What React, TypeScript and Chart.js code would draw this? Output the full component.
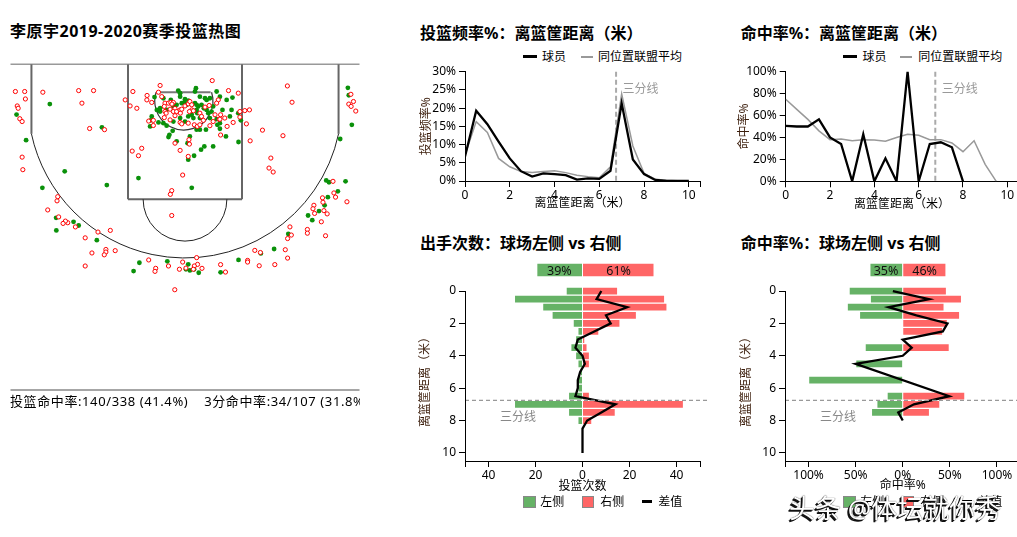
import React, { useEffect, useRef } from 'react';
import { Chart, registerables } from 'chart.js';
Chart.register(...registerables);

const FONT = '"Noto Sans", "Noto Sans CJK SC", sans-serif';
Chart.defaults.font.family = FONT;
Chart.defaults.font.size = 12;
Chart.defaults.color = '#000';

const GREEN = '#66b266';
const RED = '#ff6666';
const BAR_EDGE = 'rgba(255,255,255,0.55)';
const Y_TITLE = '#3c1e0c';

// ---------------- data ----------------
const madeShots: [number, number][] = [
  [-5.81,1.71],[-3.57,2.71],[-6.83,3.26],[-7.24,2.16],[-5.17,4.60],[-6.13,5.31],[-3.36,5.19],[-5.54,6.60],[-5.53,7.14],[-4.79,6.77],
  [-4.57,6.93],[-3.79,7.56],[-2.21,8.89],[-1.96,8.53],[-0.76,8.47],[0.04,8.81],[0.14,8.60],[0.21,8.86],[0.39,8.81],[0.59,8.96],
  [1.53,8.94],[2.30,8.41],[3.26,8.13],[3.83,7.94],[4.44,7.29],[5.29,6.50],[5.47,6.70],[5.76,6.31],[6.00,6.06],[6.14,5.71],
  [6.19,5.07],[6.07,4.99],[6.57,5.46],[6.90,5.03],[6.67,3.21],[7.17,2.60],[7.00,1.01],[7.04,1.33],[-2.00,4.89],[0.29,5.31],
  [0.39,3.93],[0.14,4.10],[0.69,3.67],[0.83,3.53],[1.21,3.53],[2.30,3.34],[1.76,3.10],[1.50,2.77],[1.39,2.60],[0.90,2.81],
  [0.64,2.81],[0.50,2.81],[0.21,3.10],[0.11,3.39],[-0.36,3.31],[-0.67,3.03],[-0.71,3.13],[-0.53,2.86],[-0.79,2.64],[-0.93,2.53],
  [-1.14,2.50],[-1.50,2.67],[-1.47,2.41],[-1.43,2.24],[-1.21,1.96],[-1.07,1.89],[-1.07,2.03],[-0.79,1.96],[-0.93,1.46],[-1.31,1.41],
  [-0.29,1.13],[0.47,1.03],[0.43,1.17],[0.64,1.39],[0.86,1.46],[0.93,1.53],[1.07,1.46],[-0.21,1.39],[0.00,1.50],[0.14,1.56],
  [-0.03,1.64],[0.07,1.74],[0.43,1.67],[0.50,1.74],[0.57,1.81],[0.71,1.74],[0.81,1.89],[0.93,1.96],[1.00,2.10],[1.14,2.03],
  [1.21,1.81],[1.36,1.17],[1.50,1.39],[1.61,1.96],[1.79,1.53],[2.00,1.96],[2.04,1.43],[2.29,2.10],[2.40,2.41],[0.64,2.31],
  [0.36,2.31],[0.14,2.24],[0.00,2.46],[-0.21,2.31],[-0.50,2.46],[1.36,2.36],[1.50,2.53],[1.93,2.24],[1.07,2.31],[0.53,2.10],
  [0.29,2.17],[0.50,1.96],[-0.14,1.67],[-0.36,1.74],[-0.50,1.81],[-0.21,1.24],[-0.61,1.53]
];

const missedShots: [number, number][] = [
  [-7.29,1.17],[-6.89,1.17],[-6.86,1.49],[-7.21,1.79],[-7.17,1.89],[-7.10,2.34],[-7.00,2.46],[-7.00,3.99],[-6.97,4.53],[-6.11,1.20],
  [-4.57,1.13],[-3.93,1.13],[-4.43,1.67],[-4.10,2.76],[-3.46,2.81],[-2.24,1.17],[-2.57,1.53],[-2.36,1.79],[-2.07,1.89],[-1.63,1.34],
  [-1.64,1.53],[-1.07,0.91],[-1.14,1.20],[-1.43,1.64],[1.17,0.70],[1.87,1.13],[2.29,1.24],[4.40,0.93],[4.60,1.63],[3.33,2.83],
  [4.21,3.07],[2.80,3.29],[2.64,2.56],[2.77,1.96],[2.57,1.99],[2.36,2.03],[2.36,2.27],[2.07,2.50],[1.81,2.67],[1.53,3.04],
  [1.21,2.46],[1.47,2.36],[-2.27,3.73],[-1.86,3.61],[-2.00,3.93],[-1.56,2.44],[-1.36,2.41],[-1.36,2.63],[-0.43,3.39],[-0.21,3.70],
  [0.19,3.43],[0.17,3.24],[0.14,3.96],[-0.10,4.76],[-0.57,5.43],[-0.63,5.59],[-0.57,6.50],[3.69,4.03],[3.61,4.46],[3.79,4.63],
  [7.13,1.29],[7.04,1.71],[7.24,1.60],[7.14,1.81],[7.34,2.01],[6.36,5.03],[6.40,5.53],[5.91,5.74],[6.47,5.71],[6.96,5.91],
  [5.54,6.06],[5.50,6.21],[5.57,6.41],[5.93,5.93],[5.97,6.29],[6.11,6.43],[5.86,6.77],[5.26,7.10],[5.26,7.26],[6.04,7.37],
  [4.51,6.99],[4.57,7.34],[4.41,7.49],[4.31,7.97],[4.41,8.33],[3.86,8.61],[3.24,8.09],[3.00,8.00],[2.69,8.43],[2.69,8.50],
  [3.19,8.66],[1.74,8.93],[1.53,8.61],[0.73,8.77],[0.54,8.60],[0.50,8.31],[0.40,8.67],[0.36,8.81],[-0.10,8.50],[0.04,8.76],
  [-0.24,8.81],[-0.71,8.67],[-1.26,8.77],[-1.29,8.90],[-1.56,8.41],[-0.44,9.69],[-3.00,8.01],[-3.40,7.96],[-3.40,8.07],[-3.47,8.19],
  [-4.00,8.11],[-4.29,8.67],[-4.29,7.46],[-3.74,7.21],[-3.21,7.14],[-4.71,6.99],[-5.04,6.81],[-5.14,6.74],[-5.24,6.84],[-5.43,6.56],
  [-5.90,6.26],[-5.50,5.87],[-5.47,5.69],
  [-0.86,1.67],[-0.71,1.67],[-0.61,1.64],[-0.50,1.64],[-0.56,1.71],[-0.89,1.81],[-0.86,2.03],[-0.81,2.10],[-0.64,1.93],[-0.43,1.90],
  [-0.50,2.03],[-0.36,2.03],[-0.21,1.96],[-0.20,2.10],[-0.14,1.93],[0.00,1.79],[0.14,1.70],[0.21,1.60],[0.29,1.74],[0.29,1.96],
  [0.19,2.03],[0.36,2.00],[0.64,2.10],[0.71,2.24],[0.79,2.41],[0.86,1.84],[1.04,1.77],[1.43,1.53],[1.36,1.67],[1.29,2.17],
  [1.53,2.17],[1.71,2.31],[1.50,2.36],[-0.21,2.50],[-0.14,2.56],[0.14,2.53],[0.40,2.60],[0.53,2.67],[0.64,2.60],[1.07,2.64],
  [-0.89,2.29],[-0.64,2.39],[-0.43,2.21],[-1.00,1.39]
];

const distances = [0, 0.5, 1, 1.5, 2, 2.5, 3, 3.5, 4, 4.5, 5, 5.5, 6, 6.5, 7, 7.5, 8, 8.5, 9, 9.5, 10];
const playerFreq = [6.7, 19.3, 15.6, 10.8, 6.2, 2.7, 1.2, 2.1, 1.9, 1.6, 0.4, 0.7, 0.6, 2.8, 21.3, 5.9, 1.9, 0.3, 0, 0, 0];
const leagueFreq = [7.1, 16.3, 13.3, 6.2, 3.9, 2.6, 2.3, 2.6, 2.8, 2.3, 1.6, 1.2, 0.9, 3.9, 23.9, 9.6, 2.1, 0.5, 0.2, 0.1, 0];
const playerFg = [50.5, 50, 50, 56.5, 40, 34, 0, 43, 0, 21, 0, 100, 0, 34, 35.6, 31, 0];
const leagueFg = [74.8, 65.6, 56.5, 46, 38, 38.6, 37, 38, 37.7, 36.5, 40, 43, 42, 38, 38, 35, 27, 37, 15.5, 0];
const leftCounts = [7, 29, 17, 13, 4, 2, 3, 5, 3, 2, 1, 2, 2, 6, 29, 6, 2, 0, 0, 0, 0];
const rightCounts = [15, 35, 36, 23, 16, 7, 1, 2, 3, 3, 0, 0, 0, 3, 43, 14, 4, 0, 0, 0, 0];
const leftFgPct = [57, 34.5, 59, 46, 0, 0, 0, 40, 0, 50, 0, 100, 0, 16.7, 27.6, 33.3, 0];
const rightFgPct = [46.5, 62.5, 44, 60.5, 47.5, 42.5, 0, 49.5, 0, 0, 0, 0, 0, 66, 39.5, 28.5, 0];
const leftFgTotal = 35;
const rightFgTotal = 46;
const threePointDist = 6.75;
const distTicks = [0, 2, 4, 6, 8, 10];
const countTicks = [-50, -40, -20, 0, 20, 40, 50];
const pctTicks = [-125, -100, -50, 0, 50, 100, 125];

// ---------------- helpers ----------------
const tickFont = { family: FONT, size: 12 };

function makeAxis(o: any) {
  return {
    type: 'linear',
    min: o.min,
    max: o.max,
    reverse: !!o.reverse,
    offset: false,
    afterBuildTicks: (s: any) => { s.ticks = o.values.map((v: number) => ({ value: v })); },
    afterFit: o.fit,
    grid: { display: true, offset: false, drawOnChartArea: false, drawTicks: true, tickLength: 6, color: '#000', tickColor: '#000', lineWidth: 1 },
    border: { display: o.border !== false, color: '#000', width: 1 },
    ticks: { color: '#000', font: tickFont, autoSkip: false, maxRotation: 0, minRotation: 0, padding: o.padding ?? 3, callback: (v: number) => o.label(v) },
    title: o.title
      ? { display: true, text: o.title, color: o.titleColor || '#000', font: { family: FONT, size: 12 }, padding: o.titlePadding }
      : { display: false },
  };
}

const courtPlugin = {
  id: 'court',
  beforeDatasetsDraw(chart: any) {
    const { ctx, scales } = chart;
    const X = (v: number) => scales.x.getPixelForValue(v);
    const Y = (v: number) => scales.y.getPixelForValue(v);
    const sx = Math.abs(X(1) - X(0));
    const sy = Math.abs(Y(1) - Y(0));
    const seg = (x1: number, y1: number, x2: number, y2: number, c: string, w: number) => {
      ctx.strokeStyle = c; ctx.lineWidth = w;
      ctx.beginPath(); ctx.moveTo(X(x1), Y(y1)); ctx.lineTo(X(x2), Y(y2)); ctx.stroke();
    };
    const arc = (cx: number, cy: number, r: number, a0: number, a1: number, c: string, w: number) => {
      ctx.strokeStyle = c; ctx.lineWidth = w;
      ctx.beginPath(); ctx.ellipse(X(cx), Y(cy), r * sx, r * sy, 0, a0, a1, false); ctx.stroke();
    };
    ctx.save();
    seg(-7.5, 0, 7.5, 0, '#999', 1.5);
    seg(-7.5, 14, 7.5, 14, '#888', 1.5);
    seg(-6.6, 0, -6.6, 2.99, '#666', 2);
    seg(6.6, 0, 6.6, 2.99, '#666', 2);
    const a3 = Math.atan2(1.415 * sy, 6.6 * sx);
    arc(0, 1.575, 6.75, a3, Math.PI - a3, '#222', 1);
    seg(-2.45, 0, -2.45, 5.8, '#666', 2);
    seg(2.45, 0, 2.45, 5.8, '#666', 2);
    seg(-2.45, 5.8, 2.45, 5.8, '#666', 2);
    arc(0, 5.8, 1.8, 0, Math.PI, '#222', 1);
    seg(-1.2, 1.2, 1.1, 1.2, '#777', 2);
    const ar = Math.asin(-0.375 / 1.25);
    arc(-0.05, 1.575, 1.25, ar, Math.PI - ar, '#333', 1.2);
    ctx.restore();
  },
};

const vThreePlugin = {
  id: 'vThree',
  beforeDatasetsDraw(chart: any) {
    const { ctx, chartArea, scales } = chart;
    const x = scales.x.getPixelForValue(threePointDist);
    ctx.save();
    ctx.strokeStyle = '#aaa'; ctx.lineWidth = 2; ctx.setLineDash([5, 3]);
    ctx.beginPath(); ctx.moveTo(x, chartArea.top); ctx.lineTo(x, chartArea.bottom); ctx.stroke();
    ctx.setLineDash([]);
    ctx.fillStyle = '#999'; ctx.font = `12px ${FONT}`; ctx.textBaseline = 'middle'; ctx.textAlign = 'left';
    ctx.fillText('三分线', x + 6.5, chartArea.top + 17.6);
    ctx.restore();
  },
};

function sidePlugin(yTitleX: number, summary: string[]) {
  return {
    id: 'sideDeco',
    afterDatasetsDraw(chart: any) {
      const { ctx, chartArea, scales } = chart;
      const y3 = scales.y.getPixelForValue(threePointDist);
      ctx.save();
      ctx.strokeStyle = '#999'; ctx.lineWidth = 1.3; ctx.setLineDash([4, 3]);
      ctx.beginPath(); ctx.moveTo(chartArea.left, y3); ctx.lineTo(chart.width, y3); ctx.stroke();
      ctx.setLineDash([]);
      ctx.fillStyle = '#888'; ctx.font = `12px ${FONT}`; ctx.textBaseline = 'middle'; ctx.textAlign = 'left';
      ctx.fillText('三分线', chartArea.left + 35, y3 + 17.6);
      ctx.fillStyle = '#111'; ctx.textAlign = 'center'; ctx.font = `12.5px ${FONT}`;
      [3, 4].forEach((di, k) => {
        const el = chart.getDatasetMeta(di).data[0];
        if (el) ctx.fillText(summary[k], (el.x + el.base) / 2, el.y + 1);
      });
      ctx.restore();
    },
    afterDraw(chart: any) {
      const { ctx, chartArea, scales } = chart;
      const y0 = scales.y.getPixelForValue(0);
      const y1 = scales.y.getPixelForValue(10.5);
      const x = Math.floor(chartArea.left) + 0.5;
      ctx.save();
      ctx.strokeStyle = '#000'; ctx.lineWidth = 1;
      ctx.beginPath(); ctx.moveTo(x, y0); ctx.lineTo(x, y1 + 0.5); ctx.stroke();
      ctx.translate(yTitleX, (y0 + y1) / 2 + 3);
      ctx.rotate(-Math.PI / 2);
      ctx.fillStyle = Y_TITLE; ctx.font = `12px ${FONT}`; ctx.textAlign = 'center'; ctx.textBaseline = 'middle';
      ctx.fillText('离篮筐距离（米）', 0, 0);
      ctx.restore();
    },
  };
}

const baseOpts = {
  responsive: false,
  animation: false,
  devicePixelRatio: 1,
  events: [],
};

// ---------------- chart configs ----------------
function courtConfig() {
  return {
    type: 'scatter',
    data: {
      datasets: [
        {
          label: '未命中',
          data: missedShots.map(([x, y]) => ({ x, y })),
          pointRadius: 2.1, pointBorderWidth: 1, pointBorderColor: '#ff0000', pointBackgroundColor: '#ffffff',
        },
        {
          label: '命中',
          data: madeShots.map(([x, y]) => ({ x, y })),
          pointRadius: 2.4, pointBorderWidth: 0, pointBackgroundColor: 'rgb(10,145,10)',
        },
      ],
    },
    options: {
      ...baseOpts,
      layout: { padding: { left: 10.5, right: 10.5, top: 14.3, bottom: 10 } },
      plugins: { legend: { display: false }, tooltip: { enabled: false } },
      scales: {
        x: { type: 'linear', min: -7.5, max: 7.5, display: false },
        y: { type: 'linear', min: 0, max: 14, reverse: true, display: false },
      },
    },
    plugins: [courtPlugin],
  };
}

function freqConfig() {
  return {
    type: 'line',
    data: {
      datasets: [
        { label: '球员', data: distances.map((d, i) => ({ x: d, y: playerFreq[i] })), borderColor: '#000', borderWidth: 2.3, pointRadius: 0 },
        { label: '同位置联盟平均', data: distances.map((d, i) => ({ x: d, y: leagueFreq[i] })), borderColor: '#999', borderWidth: 1.5, pointRadius: 0 },
      ],
    },
    options: {
      ...baseOpts,
      layout: { padding: { top: 11.7, right: 10, left: 0, bottom: 0 } },
      plugins: { legend: { display: false }, tooltip: { enabled: false } },
      scales: {
        x: makeAxis({ min: 0, max: 10.5, values: [...distTicks, 10.5], fit: (s: any) => { s.height = 39; }, padding: 1,
          label: (v: number) => (v === 10.5 ? '' : String(v)), title: '离篮筐距离（米）', titlePadding: { top: 0, bottom: 8.8 } }),
        y: makeAxis({ min: 0, max: 30, values: [0, 5, 10, 15, 20, 25, 30], fit: (s: any) => { s.width = 55; },
          label: (v: number) => `${v}%`, title: '投篮频率%', titleColor: Y_TITLE, titlePadding: { top: 9.5, bottom: 0 } }),
      },
    },
    plugins: [vThreePlugin],
  };
}

function fgConfig() {
  return {
    type: 'line',
    data: {
      datasets: [
        { label: '球员', data: playerFg.map((v, i) => ({ x: distances[i], y: v })), borderColor: '#000', borderWidth: 2.3, pointRadius: 0 },
        { label: '同位置联盟平均', data: leagueFg.map((v, i) => ({ x: distances[i], y: v })), borderColor: '#999', borderWidth: 1.5, pointRadius: 0 },
      ],
    },
    options: {
      ...baseOpts,
      layout: { padding: { top: 11.7, right: 11.6, left: 0, bottom: 0 } },
      plugins: { legend: { display: false }, tooltip: { enabled: false } },
      scales: {
        x: makeAxis({ min: 0, max: 10.5, values: [...distTicks, 10.5], fit: (s: any) => { s.height = 38.7; }, padding: 1,
          label: (v: number) => (v === 10.5 ? '' : String(v)), title: '离篮筐距离（米）', titlePadding: { top: 0, bottom: 8.5 } }),
        y: makeAxis({ min: 0, max: 100, values: [0, 20, 40, 60, 80, 100], fit: (s: any) => { s.width = 65.7; },
          label: (v: number) => `${v}%`, title: '命中率%', titleColor: Y_TITLE, titlePadding: { top: 17.8, bottom: 0 } }),
      },
    },
    plugins: [vThreePlugin],
  };
}

const barStyle = { borderColor: BAR_EDGE, borderWidth: 1, grouped: false, categoryPercentage: 1, barPercentage: 1 };

function countsConfig() {
  const sumL = leftCounts.reduce((a, b) => a + b, 0);
  const sumR = rightCounts.reduce((a, b) => a + b, 0);
  const leftShare = Math.round((100 * sumL) / (sumL + sumR));
  const rightShare = 100 - leftShare;
  const shareScale = 50 / 100;
  return {
    type: 'bar',
    data: {
      datasets: [
        { type: 'line', indexAxis: 'y', label: '差值', data: distances.map((d, i) => ({ x: rightCounts[i] - leftCounts[i], y: d })),
          borderColor: '#000', borderWidth: 2.3, pointRadius: 0 },
        { label: '左侧', data: distances.map((d, i) => ({ x: -leftCounts[i], y: d })).filter((p) => p.x !== 0), backgroundColor: GREEN, ...barStyle },
        { label: '右侧', data: distances.map((d, i) => ({ x: rightCounts[i], y: d })).filter((p) => p.x !== 0), backgroundColor: RED, ...barStyle },
        { label: '左侧占比', data: [{ x: -leftShare * shareScale, y: -1.3 }], backgroundColor: GREEN, ...barStyle, barThickness: 14 },
        { label: '右侧占比', data: [{ x: rightShare * shareScale, y: -1.3 }], backgroundColor: RED, ...barStyle, barThickness: 14 },
      ],
    },
    options: {
      ...baseOpts,
      indexAxis: 'y',
      layout: { padding: { top: 10.4, right: 10, left: 0, bottom: 0 } },
      plugins: { legend: { display: false }, tooltip: { enabled: false } },
      scales: {
        x: makeAxis({ min: -50, max: 50, values: countTicks, fit: (s: any) => { s.height = 39; }, padding: 1,
          label: (v: number) => (Math.abs(v) === 50 ? '' : String(Math.abs(v))), title: '投篮次数', titlePadding: { top: 0, bottom: 6.1 } }),
        y: makeAxis({ min: -2.2, max: 10.5, reverse: true, values: distTicks, border: false, fit: (s: any) => { s.width = 55; },
          label: (v: number) => String(v) }),
      },
    },
    plugins: [sidePlugin(15.7, [`${leftShare}%`, `${rightShare}%`])],
  };
}

function sideFgConfig() {
  const diff = distances
    .map((d, i) => ({ d, i }))
    .filter(({ i }) => leftCounts[i] > 0 && rightCounts[i] > 0)
    .map(({ d, i }) => ({ x: rightFgPct[i] - leftFgPct[i], y: d }));
  return {
    type: 'bar',
    data: {
      datasets: [
        { type: 'line', indexAxis: 'y', label: '差值', data: diff, borderColor: '#000', borderWidth: 2.3, pointRadius: 0 },
        { label: '左侧', data: leftFgPct.map((v, i) => ({ x: -v, y: distances[i] })).filter((p) => p.x !== 0), backgroundColor: GREEN, ...barStyle },
        { label: '右侧', data: rightFgPct.map((v, i) => ({ x: v, y: distances[i] })).filter((p) => p.x !== 0), backgroundColor: RED, ...barStyle },
        { label: '左侧总', data: [{ x: -leftFgTotal, y: -1.3 }], backgroundColor: GREEN, ...barStyle, barThickness: 14 },
        { label: '右侧总', data: [{ x: rightFgTotal, y: -1.3 }], backgroundColor: RED, ...barStyle, barThickness: 14 },
      ],
    },
    options: {
      ...baseOpts,
      indexAxis: 'y',
      layout: { padding: { top: 10.4, right: 9.5, left: 0, bottom: 0 } },
      plugins: { legend: { display: false }, tooltip: { enabled: false } },
      scales: {
        x: makeAxis({ min: -125, max: 125, values: pctTicks, fit: (s: any) => { s.height = 39; }, padding: 1,
          label: (v: number) => (Math.abs(v) === 125 ? '' : `${Math.abs(v)}%`), title: '命中率%', titlePadding: { top: 0, bottom: 6.8 } }),
        y: makeAxis({ min: -2.2, max: 10.5, reverse: true, values: distTicks, border: false, fit: (s: any) => { s.width = 65; },
          label: (v: number) => String(v) }),
      },
    },
    plugins: [sidePlugin(26.7, [`${leftFgTotal}%`, `${rightFgTotal}%`])],
  };
}

// ---------------- components ----------------
function ChartBox({ left, top, width, height, make }: any) {
  const ref = useRef<HTMLCanvasElement>(null);
  useEffect(() => {
    const chart = new Chart(ref.current as HTMLCanvasElement, make());
    return () => chart.destroy();
  }, []);
  return (
    <canvas ref={ref} width={width} height={height}
      style={{ position: 'absolute', left, top, width, height, display: 'block' }} />
  );
}

function Txt({ x, y, size = 12, bold = false, color = '#000', children, style = {} }: any) {
  const lh = Math.round(size * 1.3);
  return (
    <div style={{ position: 'absolute', left: x, top: y - lh / 2, fontSize: size, lineHeight: `${lh}px`,
      fontWeight: bold ? 700 : 400, color, whiteSpace: 'pre', fontFamily: FONT, ...style }}>{children}</div>
  );
}

function Bar({ x, y, w, h, color, border }: any) {
  return <div style={{ position: 'absolute', left: x, top: y, width: w, height: h, background: color, boxSizing: 'border-box', border }} />;
}

function LineLegend({ x1, x2, x3, x4, y }: any) {
  return (
    <>
      <Bar x={x1} y={y - 1.25} w={14} h={2.5} color="#000" />
      <Txt x={x2} y={y}>球员</Txt>
      <Bar x={x3} y={y - 1} w={12} h={2} color="#999" />
      <Txt x={x4} y={y}>同位置联盟平均</Txt>
    </>
  );
}

function SideLegend({ x, y }: any) {
  return (
    <>
      <Bar x={x} y={y - 6} w={12.5} h={12} color={GREEN} border="1px solid #888" />
      <Txt x={x + 17} y={y}>左侧</Txt>
      <Bar x={x + 58.4} y={y - 6} w={12.5} h={12} color={RED} border="1px solid #888" />
      <Txt x={x + 77} y={y}>右侧</Txt>
      <Bar x={x + 118.4} y={y - 1.25} w={10.5} h={2.5} color="#000" />
      <Txt x={x + 135} y={y}>差值</Txt>
    </>
  );
}

export default function App() {
  return (
    <div style={{ position: 'fixed', left: 0, top: 0, width: 1017, height: 537, overflow: 'hidden', background: '#fff', fontFamily: FONT }}>
      <Txt x={10} y={31.3} size={16} bold style={{ letterSpacing: '0.5px' }}>李原宇2019-2020赛季投篮热图</Txt>
      <ChartBox left={0} top={50} width={370} height={350} make={courtConfig} />
      <div style={{ position: 'absolute', left: 0, top: 392, width: 360, height: 20, overflow: 'hidden' }}>
        <Txt x={10} y={9.7} size={13} style={{ letterSpacing: '0.6px' }}>{'投篮命中率:140/338 (41.4%)    3分命中率:34/107 (31.8%)'}</Txt>
      </div>

      <Txt x={420} y={33.3} size={16} bold>投篮频率%：离篮筐距离（米）</Txt>
      <LineLegend x1={522.7} x2={542} x3={580.7} x4={598} y={56.7} />
      <ChartBox left={410} top={60} width={300} height={160} make={freqConfig} />

      <Txt x={740.7} y={33.3} size={16} bold>命中率%：离篮筐距离（米）</Txt>
      <LineLegend x1={842.7} x2={862.5} x3={900} x4={918.3} y={56.7} />
      <ChartBox left={720} top={60} width={310} height={160} make={fgConfig} />

      <Txt x={420} y={243.5} size={16} bold>出手次数：球场左侧 vs 右侧</Txt>
      <ChartBox left={410} top={245} width={300} height={255} make={countsConfig} />
      <SideLegend x={523.3} y={501.7} />

      <Txt x={740.7} y={243.5} size={16} bold>命中率%：球场左侧 vs 右侧</Txt>
      <ChartBox left={720} top={245} width={310} height={255} make={sideFgConfig} />
      <SideLegend x={843.3} y={501.7} />

      <Txt x={789} y={507.5} size={26} color="#fff"
        style={{ textShadow: '-1px 1px 0 #111, -2px 2px 0 #111, 0 0 1px #111' }}>头条 @体坛就你秀</Txt>
    </div>
  );
}
